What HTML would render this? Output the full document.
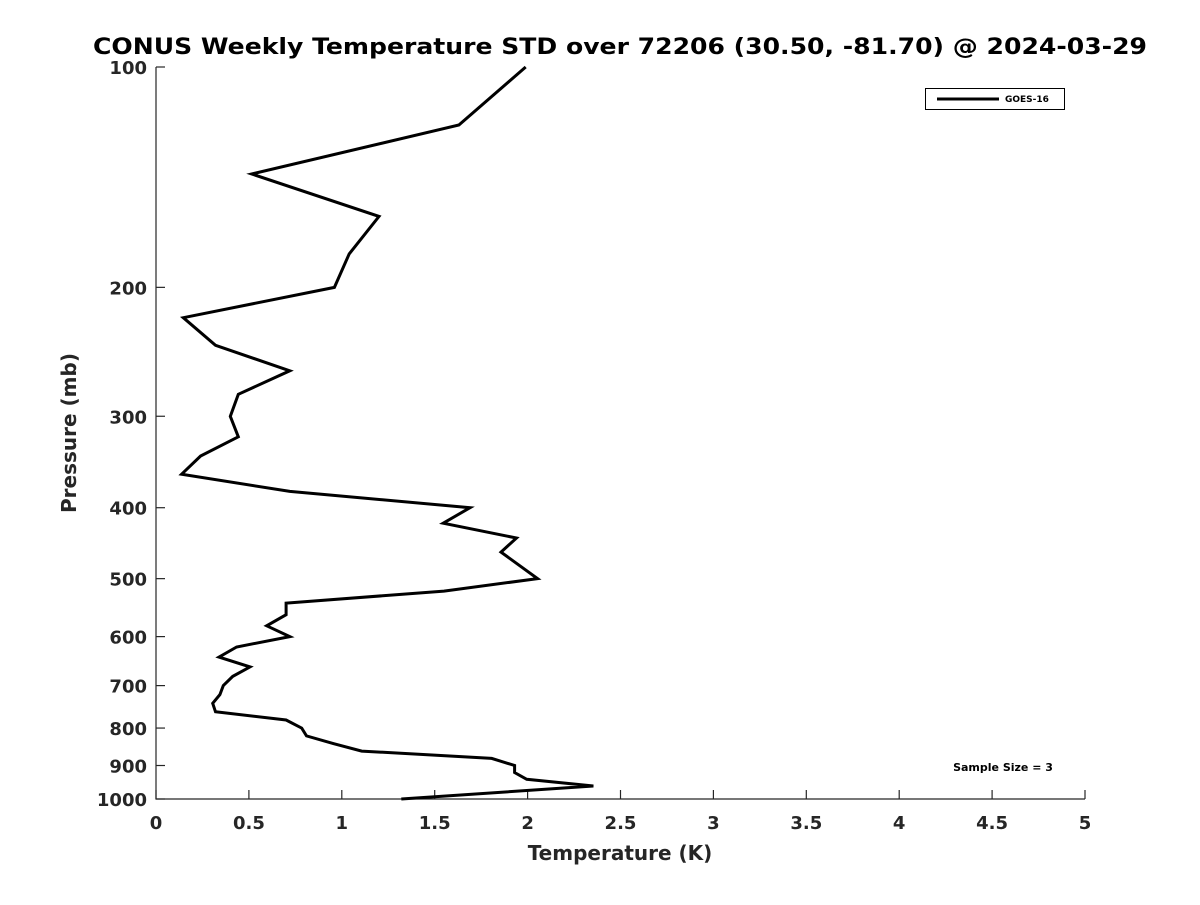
<!DOCTYPE html>
<html><head><meta charset="utf-8"><style>
body{margin:0;background:#fff;}
svg text{font-family:"DejaVu Sans","Liberation Sans",sans-serif;font-weight:bold;fill:#262626;}
</style></head><body>
<svg width="1200" height="900" xmlns="http://www.w3.org/2000/svg" id="chart">
<rect width="1200" height="900" fill="#fff"/>
<text x="620" y="54" font-size="22" text-anchor="middle" textLength="1054" lengthAdjust="spacingAndGlyphs" style="fill:#000">CONUS Weekly Temperature STD over 72206 (30.50, -81.70) @ 2024-03-29</text>
<g id="axes"></g>
<polyline id="series" fill="none" stroke="#000" stroke-width="3" stroke-linejoin="miter"/>
<g>
<rect x="925.5" y="88.5" width="139" height="21" fill="#fff" stroke="#000" stroke-width="1"/>
<line x1="937" y1="99" x2="999" y2="99" stroke="#000" stroke-width="3"/>
<text x="1005" y="102" font-size="9" style="fill:#000">GOES-16</text>
</g>
<text x="1003" y="771" font-size="11" text-anchor="middle" style="fill:#000">Sample Size = 3</text>
<text x="620" y="860" font-size="20" text-anchor="middle">Temperature (K)</text>
<text transform="translate(76,433) rotate(-90)" font-size="20" text-anchor="middle">Pressure (mb)</text>
</svg>
<script>
const pressures=[100,120,140,160,180,200,220,240,260,280,300,320,340,360,380,400,420,440,460,500,520,540,560,580,600,620,640,660,680,700,720,740,760,780,800,820,840,860,880,900,920,940,960,1000];
const stdValues=[1.99,1.63,0.515,1.20,1.04,0.96,0.147,0.32,0.72,0.443,0.40,0.443,0.24,0.138,0.72,1.69,1.546,1.94,1.857,2.054,1.55,0.70,0.70,0.596,0.72,0.434,0.339,0.506,0.413,0.362,0.344,0.305,0.32,0.70,0.784,0.81,0.954,1.107,1.807,1.93,1.93,1.995,2.354,1.32];
const xTicks=[0,0.5,1,1.5,2,2.5,3,3.5,4,4.5,5];
const yTicks=[100,200,300,400,500,600,700,800,900,1000];
const X0=156,X1=1085,Y0=67,Y1=799;
const xs=v=>X0+(v-0)/5*(X1-X0);
const ys=p=>Y0+Math.log10(p/100)*(Y1-Y0);
const NS='http://www.w3.org/2000/svg';
const ax=document.getElementById('axes');
function mk(t,a){const e=document.createElementNS(NS,t);for(const k in a)e.setAttribute(k,a[k]);return e;}
const axl=mk('path',{d:`M${X0},${Y0}V${Y1}H${X1}`,stroke:'#262626','stroke-width':1.2,fill:'none'});


ax.appendChild(axl);
xTicks.forEach(t=>{
 const x=xs(t);
 const l=mk('line',{x1:x,x2:x,y1:Y1,y2:Y1-9,stroke:'#262626','stroke-width':1.2});
 
 
 ax.appendChild(l);
 const tx=mk('text',{x:x,y:Y1+30,'font-size':18,'text-anchor':'middle'});
 
 
 tx.textContent=String(t);ax.appendChild(tx);
});
yTicks.forEach(t=>{
 const y=ys(t);
 const l=mk('line',{x1:X0,x2:X0+9,y1:y,y2:y,stroke:'#262626','stroke-width':1.2});
 
 
 ax.appendChild(l);
 const tx=mk('text',{x:X0-9,y:y+7,'font-size':18,'text-anchor':'end'});
 
 
 tx.textContent=String(t);ax.appendChild(tx);
});
document.getElementById('series').setAttribute('points',pressures.map((p,i)=>xs(stdValues[i]).toFixed(1)+','+ys(p).toFixed(1)).join(' '));
</script>
</body></html>
